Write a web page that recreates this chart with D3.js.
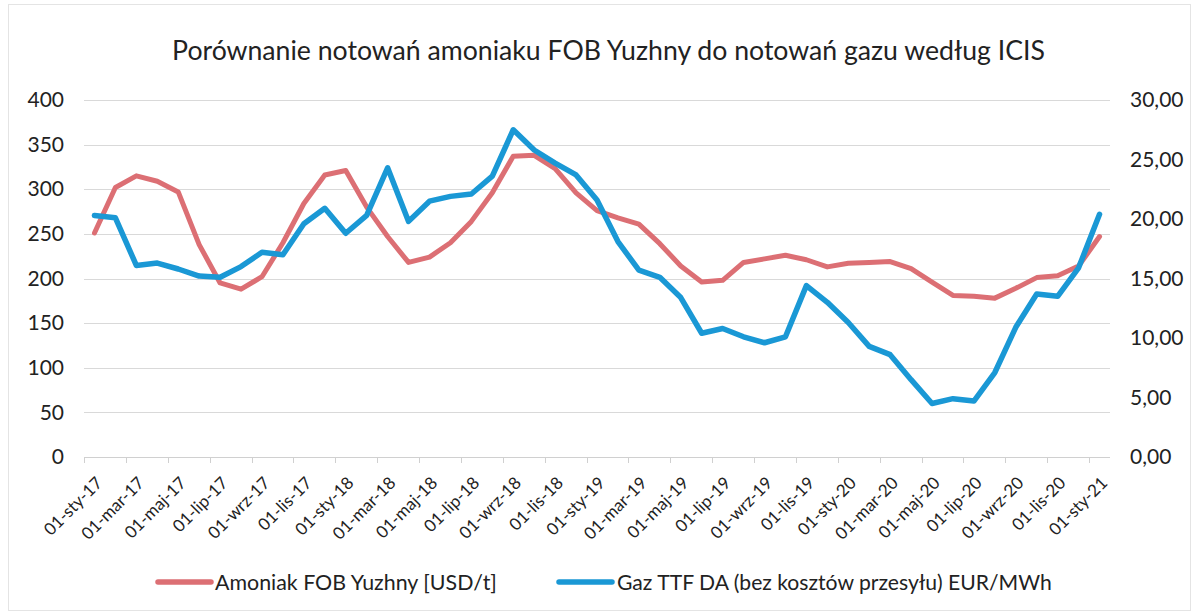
<!DOCTYPE html>
<html>
<head>
<meta charset="utf-8">
<script src="https://cdn.jsdelivr.net/npm/d3@7"></script>
<style>
  html, body { margin: 0; padding: 0; background: #fff; }
  svg { display: block; font-family: Lato, "Open Sans", sans-serif; }
</style>
</head>
<body>
<svg id="chart" width="1195" height="615"></svg>
<script>
const title = "Porównanie notowań amoniaku FOB Yuzhny do notowań gazu według ICIS";

const categories = [
  "01-sty-17","01-lut-17","01-mar-17","01-kwi-17","01-maj-17","01-cze-17","01-lip-17","01-sie-17","01-wrz-17","01-paź-17","01-lis-17","01-gru-17",
  "01-sty-18","01-lut-18","01-mar-18","01-kwi-18","01-maj-18","01-cze-18","01-lip-18","01-sie-18","01-wrz-18","01-paź-18","01-lis-18","01-gru-18",
  "01-sty-19","01-lut-19","01-mar-19","01-kwi-19","01-maj-19","01-cze-19","01-lip-19","01-sie-19","01-wrz-19","01-paź-19","01-lis-19","01-gru-19",
  "01-sty-20","01-lut-20","01-mar-20","01-kwi-20","01-maj-20","01-cze-20","01-lip-20","01-sie-20","01-wrz-20","01-paź-20","01-lis-20","01-gru-20",
  "01-sty-21"
];

const tickLabels = [
  "01-sty-17","01-mar-17","01-maj-17","01-lip-17","01-wrz-17","01-lis-17",
  "01-sty-18","01-mar-18","01-maj-18","01-lip-18","01-wrz-18","01-lis-18",
  "01-sty-19","01-mar-19","01-maj-19","01-lip-19","01-wrz-19","01-lis-19",
  "01-sty-20","01-mar-20","01-maj-20","01-lip-20","01-wrz-20","01-lis-20",
  "01-sty-21"
];

const seriesNames = ["Amoniak FOB Yuzhny [USD/t]", "Gaz TTF DA (bez kosztów przesyłu) EUR/MWh"];

const amoniak = [
  251, 302, 315, 309, 297, 238, 195, 188, 202, 240, 284, 316,
  321, 280, 247, 218, 224, 240, 264, 296, 337, 338, 323, 296,
  276, 268, 261, 239, 214, 196, 198, 218, 222, 226, 221, 213,
  217, 218, 219, 211, 196, 181, 180, 178, 189, 201, 203, 214,
  247
];

const gaz = [
  20.3, 20.1, 16.1, 16.3, 15.8, 15.2, 15.1, 16.0, 17.2, 17.0, 19.6, 20.9,
  18.8, 20.3, 24.3, 19.8, 21.5, 21.9, 22.1, 23.6, 27.5, 25.8, 24.7, 23.7,
  21.6, 18.1, 15.7, 15.1, 13.4, 10.4, 10.8, 10.1, 9.6, 10.1, 14.4, 13.0,
  11.3, 9.3, 8.6, 6.5, 4.5, 4.9, 4.7, 7.1, 10.9, 13.7, 13.5, 15.9,
  20.4
];

const leftTicks = [0, 50, 100, 150, 200, 250, 300, 350, 400];
const rightTicks = [0, 5, 10, 15, 20, 25, 30];

const colors = { amoniak: "#DC6F74", gaz: "#1A98D5" };

const svg = d3.select("#chart");
const plot = { left: 84, right: 1110, top: 100, bottom: 457 };

// border
svg.append("rect").attr("x", 8.5).attr("y", 4.5).attr("width", 1182).attr("height", 606)
  .attr("fill", "none").attr("stroke", "#e4e4e4").attr("stroke-width", 1);

const x = d3.scaleBand().domain(categories).range([plot.left, plot.right]).padding(0);
const cx = d => x(d) + x.bandwidth() / 2;
const yL = d3.scaleLinear().domain([0, 400]).range([plot.bottom, plot.top]);
const yR = d3.scaleLinear().domain([0, 30]).range([plot.bottom, plot.top]);

// gridlines
svg.append("g").selectAll("line").data(leftTicks.filter(t => t > 0)).join("line")
  .attr("x1", plot.left).attr("x2", plot.right)
  .attr("y1", d => Math.round(yL(d)) + 0.5).attr("y2", d => Math.round(yL(d)) + 0.5)
  .attr("stroke", "#d9d9d9").attr("stroke-width", 1);

// left axis
const gL = svg.append("g").attr("transform", `translate(${plot.left - 20},0)`)
  .call(d3.axisLeft(yL).tickValues(leftTicks).tickSize(0).tickPadding(0));
gL.select(".domain").remove();
gL.selectAll("text").attr("font-size", 21).attr("font-family", "Lato, sans-serif").attr("fill", "#222");

// right axis
const fmtR = d => d3.format(".2f")(d).replace(".", ",");
const gR = svg.append("g").attr("transform", `translate(${plot.right + 20},0)`)
  .call(d3.axisRight(yR).tickValues(rightTicks).tickFormat(fmtR).tickSize(0).tickPadding(0));
gR.select(".domain").remove();
gR.selectAll("text").attr("font-size", 21).attr("font-family", "Lato, sans-serif").attr("fill", "#222");

// bottom axis
const tickBoundaries = categories.filter((c, i) => i % 2 === 0);
const gB = svg.append("g");
gB.append("line").attr("x1", plot.left).attr("x2", plot.right)
  .attr("y1", plot.bottom + 0.5).attr("y2", plot.bottom + 0.5)
  .attr("stroke", "#d0d0d0").attr("stroke-width", 1);
gB.selectAll("line.tick").data(tickBoundaries).join("line").attr("class", "tick")
  .attr("x1", d => Math.round(x(d)) + 0.5).attr("x2", d => Math.round(x(d)) + 0.5)
  .attr("y1", plot.bottom).attr("y2", plot.bottom + 6)
  .attr("stroke", "#d0d0d0").attr("stroke-width", 1);
gB.selectAll("text").data(tickLabels).join("text")
  .attr("transform", d => `translate(${cx(d) + 9},${plot.bottom + 27}) rotate(-45)`)
  .attr("text-anchor", "end")
  .attr("font-size", 17).attr("fill", "#222")
  .text(d => d);

// lines
const lineL = d3.line().x((d, i) => cx(categories[i])).y(d => yL(d)).curve(d3.curveLinear);
const lineR = d3.line().x((d, i) => cx(categories[i])).y(d => yR(d)).curve(d3.curveLinear);

svg.append("path").datum(amoniak).attr("d", lineL)
  .attr("fill", "none").attr("stroke", colors.amoniak).attr("stroke-width", 5)
  .attr("stroke-linejoin", "round").attr("stroke-linecap", "round");
svg.append("path").datum(gaz).attr("d", lineR)
  .attr("fill", "none").attr("stroke", colors.gaz).attr("stroke-width", 5.5)
  .attr("stroke-linejoin", "round").attr("stroke-linecap", "round");

// fit helper
function fitWidth(sel, target) {
  const w = sel.node().getComputedTextLength();
  const fs = parseFloat(sel.attr("font-size"));
  sel.attr("font-size", (fs * target / w).toFixed(2));
}

// title
const t = svg.append("text").attr("x", 608.5).attr("y", 60).attr("text-anchor", "middle")
  .attr("font-size", 26).attr("fill", "#222").text(title);
fitWidth(t, 873);

// legend
const legend = [
  { name: seriesNames[0], color: colors.amoniak, x1: 158, x2: 211, tx: 215, w: 282 },
  { name: seriesNames[1], color: colors.gaz, x1: 559, x2: 612, tx: 617, w: 435 }
];
const lg = svg.append("g");
legend.forEach(l => {
  lg.append("line").attr("x1", l.x1).attr("x2", l.x2).attr("y1", 582).attr("y2", 582)
    .attr("stroke", l.color).attr("stroke-width", 5.5).attr("stroke-linecap", "round");
  const tt = lg.append("text").attr("x", l.tx).attr("y", 590).attr("font-size", 21)
    .attr("fill", "#222").text(l.name);
  fitWidth(tt, l.w);
});
</script>
</body>
</html>
